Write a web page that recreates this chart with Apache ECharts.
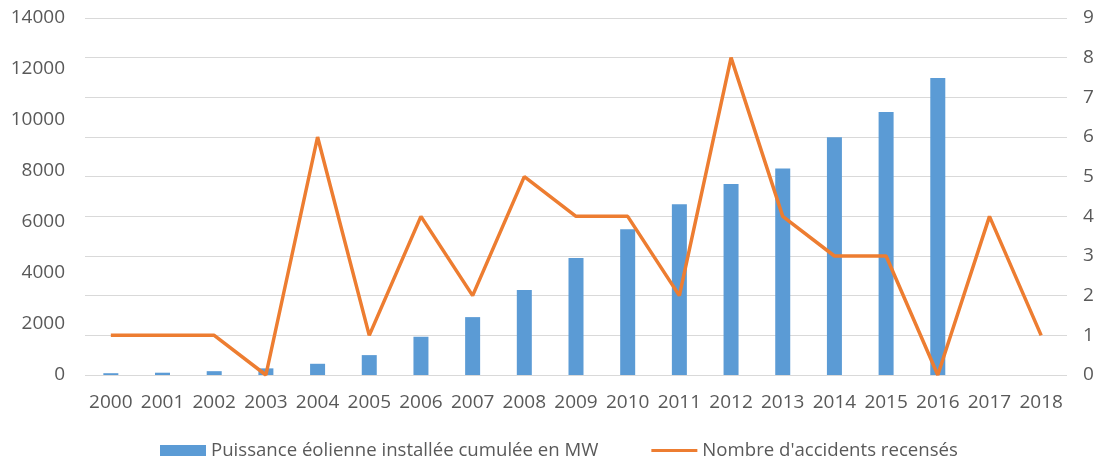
<!DOCTYPE html>
<html><head><meta charset="utf-8">
<script src="https://cdn.jsdelivr.net/npm/echarts@6/dist/echarts.min.js"></script>
<style>html,body{margin:0;padding:0;background:#fff}#c{width:1103px;height:461px}</style>
</head><body><div id="c"></div>
<script>
const years = ['2000','2001','2002','2003','2004','2005','2006','2007','2008','2009','2010','2011','2012','2013','2014','2015','2016','2017','2018'];
const puissanceMW = [70, 90, 150, 260, 440, 780, 1500, 2270, 3330, 4590, 5720, 6700, 7490, 8100, 9320, 10310, 11650, null, null];
const accidents = [1, 1, 1, 0, 6, 1, 4, 2, 5, 4, 4, 2, 8, 4, 3, 3, 0, 4, 1];
const seriesNames = ['Puissance éolienne installée cumulée en MW', "Nombre d'accidents recensés"];

const font = 'Open Sans';
const txt = '#595959';
const chart = echarts.init(document.getElementById('c'));
chart.setOption({
  animation: false,
  grid: {left: 85, right: 36, top: 18, bottom: 86, containLabel: false},
  legend: {
    top: 436, left: 155, itemGap: 53, itemWidth: 46, itemHeight: 11,
    textStyle: {fontFamily: font, fontSize: 18.6, color: txt},
    data: [{name: seriesNames[0], icon: 'rect'}, {name: seriesNames[1], icon: 'path://M0,0 L46,0 L46,3 L0,3 Z'}]
  },
  xAxis: {
    type: 'category', data: years,
    axisLine: {show: false}, axisTick: {show: false},
    axisLabel: {fontFamily: font, fontSize: 19, color: txt, margin: 18, interval: 0}
  },
  yAxis: [
    {type: 'value', min: 0, max: 14000, interval: 2000, splitLine: {show: false},
     axisLine: {show: false}, axisTick: {show: false},
     axisLabel: {fontFamily: font, fontSize: 19, color: txt, margin: 20, formatter: v => String(v)}},
    {type: 'value', min: 0, max: 9, interval: 1,
     splitLine: {show: true, lineStyle: {color: '#d9d9d9', width: 1}},
     axisLine: {show: false}, axisTick: {show: false},
     axisLabel: {fontFamily: font, fontSize: 19, color: txt, margin: 16}}
  ],
  series: [
    {name: seriesNames[0], type: 'bar', yAxisIndex: 0, data: puissanceMW, barWidth: 15,
     itemStyle: {color: '#5B9BD5'}},
    {name: seriesNames[1], type: 'line', yAxisIndex: 1, data: accidents, symbol: 'none',
     lineStyle: {color: '#ED7D31', width: 3.5}, itemStyle: {color: '#ED7D31'}, z: 3}
  ]
});
</script></body></html>
